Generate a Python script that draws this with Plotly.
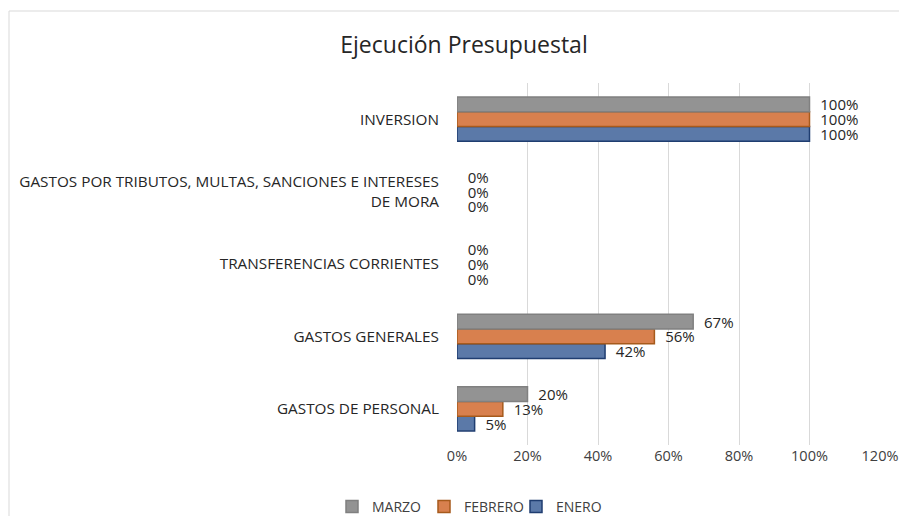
import plotly.graph_objects as go

categories = [
    "GASTOS DE PERSONAL",
    "GASTOS GENERALES",
    "TRANSFERENCIAS CORRIENTES",
    "GASTOS POR TRIBUTOS, MULTAS, SANCIONES E INTERESES<br>DE MORA",
    "INVERSION",
]
enero = [0.05, 0.42, 0.0, 0.0, 1.0]
febrero = [0.13, 0.56, 0.0, 0.0, 1.0]
marzo = [0.20, 0.67, 0.0, 0.0, 1.0]
x_ticks = [0, 0.2, 0.4, 0.6, 0.8, 1.0, 1.2]

FONT = "Open Sans"
series = [
    ("ENERO", enero, "#5B79A8", "#1F3D70"),
    ("FEBRERO", febrero, "#D8804E", "#A65A1C"),
    ("MARZO", marzo, "#939393", "#808080"),
]

W, H = 899, 516
L, R, T, B = 449, 27, 75, 79

fig = go.Figure()
for name, vals, col, line in series:
    fig.add_trace(go.Bar(
        y=categories, x=vals, name=name, orientation="h",
        marker=dict(color=col, line=dict(color=line,
                                         width=[1.5 if v > 0 else 0 for v in vals])),
        text=["\u00a0\u00a0" + f"{round(v*100)}%" for v in vals],
        textposition="outside", cliponaxis=False, constraintext="none",
        outsidetextfont=dict(family=FONT, size=15, color="#262626"),
        textfont=dict(family=FONT, size=15, color="#262626"),
    ))

fig.update_layout(
    width=W, height=H,
    barmode="group", bargap=0.39, bargroupgap=0,
    plot_bgcolor="white", paper_bgcolor="white",
    margin=dict(l=L, r=R, t=T, b=B, autoexpand=False),
    font=dict(family=FONT, color="#404040"),
    title=dict(text="Ejecución Presupuestal", x=456 / W, xanchor="center",
               y=1 - 37 / H, yanchor="middle",
               font=dict(family=FONT, size=23, color="#262626")),
    xaxis=dict(range=[0, 1.2], tickvals=x_ticks, tickformat=".0%",
               showgrid=True, gridcolor="#D9D9D9", gridwidth=1,
               zeroline=False, showline=False, ticks="", automargin=False,
               tickfont=dict(family=FONT, size=14.5, color="#404040")),
    yaxis=dict(showgrid=False, zeroline=False, showline=False, ticks="",
               ticklabelstandoff=17, automargin=False,
               tickfont=dict(family=FONT, size=15.3, color="#262626")),
    legend=dict(orientation="h", traceorder="reversed", xref="container",
                yref="container", x=462 / W, xanchor="center", y=1 - 499 / H,
                yanchor="middle", font=dict(family=FONT, size=14, color="#404040"),
                itemwidth=30, entrywidth=47, entrywidthmode="pixels"),
    shapes=[dict(type="rect", xref="paper", yref="paper",
                 x0=(1 - L) / (W - L - R), x1=(W - 1 - L) / (W - L - R),
                 y0=(H - B - H - 20) / (H - T - B), y1=(H - B - 3) / (H - T - B),
                 line=dict(color="#D9D9D9", width=1), layer="below")],
)
fig.write_html("out.html")
